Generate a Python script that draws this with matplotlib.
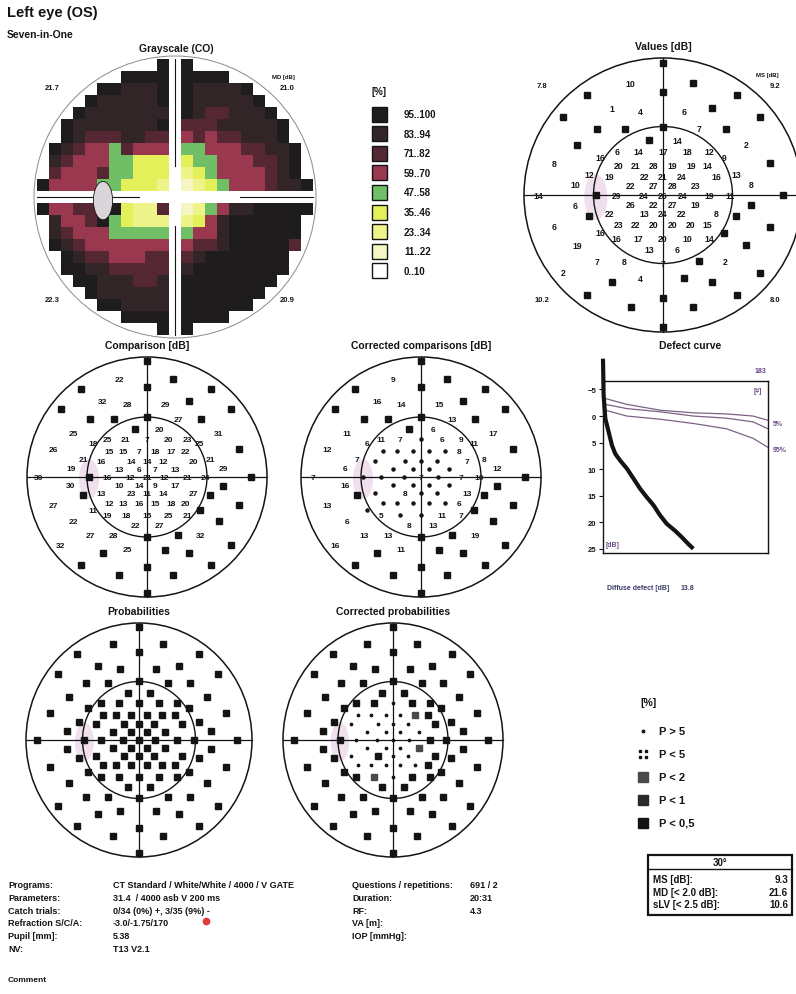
#!/usr/bin/env python
# coding=utf-8

import matplotlib
matplotlib.use("Agg")
import matplotlib.pyplot as plt
from matplotlib.patches import Circle, Ellipse, Rectangle
from matplotlib.colors import ListedColormap
import numpy as np

plt.rcParams['font.family'] = ['Liberation Sans', 'DejaVu Sans']
plt.rcParams['font.weight'] = 'bold'

# ---------------- data ----------------
# test point locations in degrees (outer ring upper, horizontal axis, outer lower, central)
PT_X = [0, -7, 6.5, -16.5, 0, 16, -11, -5, 4.5, 10.5, -21.5, 21, 0, -14.2, -8.3, 7.8, 13.5,
        -18.5, 18, -13.5, 13.2, -23.5, 23, -16, 15.8, -19, 19,
        -27, -14.5, 14.5, 26,
        -19, 19, -16, 15.8, -23.5, 23, -13.5, 13.2, -18.5, 18, -14.2, -8.3, 7.8, 13.5, 0,
        -21.5, 21, -11, -5, 4.5, 10.5, -16.5, 0, 16, -7, 6.5, 0,
        -3, 3,
        -10, -5.3, 0, 5.3, 10,
        -9.5, -6, -2, 2, 6, 9.5,
        -11.5, -4, 0, 4, 11.5,
        -7, -2, 2, 7,
        -10, -4.3, 0, 4.3, 10,
        -7, -2, 2, 7,
        -11.5, -4, 0, 4, 11.5,
        -9.5, -6, -2, 2, 6, 9.5,
        -10, -5.3, 0, 5.3, 10,
        -3, 3]
PT_Y = [29, 24.5, 24.5, 22, 22.5, 22, 19, 18.2, 18.2, 19, 17, 17, 15, 14.5, 14.5, 14.5, 14.5,
        11, 11, 8.3, 8.3, 7, 7, 4.5, 4.5, 2.2, 2.2,
        0, 0, 0, 0,
        -2.2, -2.2, -4.5, -4.5, -7, -7, -8.3, -8.3, -11, -11, -14.5, -14.5, -14.5, -14.5, -15,
        -17, -17, -19, -18.2, -18.2, -19, -22, -22.5, -22, -24.5, -24.5, -29,
        12, 12,
        9.5, 9.5, 9.5, 9.5, 9.5,
        6.5, 6.5, 6.5, 6.5, 6.5, 6.5,
        4, 4, 4, 4, 4,
        2, 2, 2, 2,
        0, 0, 0, 0, 0,
        -2, -2, -2, -2,
        -4, -4, -4, -4, -4,
        -6.5, -6.5, -6.5, -6.5, -6.5, -6.5,
        -9.5, -9.5, -9.5, -9.5, -9.5,
        -12, -12]

# None = black square (absolute defect), 0 = dot (within normal)
VALUES = [None, 10, None, None, None, None, 1, 4, 6, None, None, None, None, None, None, 7, None,
          None, 2, 16, 9, 8, None, 12, 13, 10, 8,
          14, None, 11, None,
          6, None, None, None, 6, None, 16, None, 19, None, 7, 8, None, 2, 7,
          2, None, None, 4, None, None, None, None, None, None, None, None,
          None, 14,
          6, 14, 17, 18, 12,
          20, 21, 28, 19, 19, 14,
          19, 22, 21, 24, 16,
          22, 27, 28, 23,
          29, 24, 26, 24, 19,
          26, 22, 27, 19,
          22, 13, 24, 22, 8,
          23, 22, 20, 20, 20, 15,
          16, 17, 20, 10, 14,
          13, 6]

COMPARISON = [None, 22, None, None, None, None, 32, 28, 29, None, None, None, None, None, None, 27, None,
              25, 31, 18, 25, 26, None, 21, 21, 19, 29,
              30, None, 24, None,
              30, None, None, None, 27, None, 11, None, 22, None, 27, 28, None, 32, None,
              32, None, None, 25, None, None, None, None, None, None, None, None,
              None, 20,
              25, 21, 7, 20, 23,
              15, 15, 7, 18, 17, 22,
              16, 14, 14, 12, 20,
              13, 6, 7, 13,
              16, 12, 21, 12, 21,
              10, 14, 9, 17,
              13, 23, 11, 14, 27,
              12, 13, 16, 15, 18, 20,
              19, 18, 15, 25, 21,
              22, 27]

CORR_COMP = [None, 9, None, None, None, None, 16, 14, 15, None, None, None, None, None, None, 13, None,
             11, 17, 6, 11, 12, None, 7, 8, 6, 12,
             7, 0, 10, None,
             16, None, None, None, 13, None, 0, None, 6, None, 13, 13, None, 19, None,
             16, None, None, 11, None, None, None, None, None, None, None, None,
             None, 6,
             11, 7, 0, 6, 9,
             0, 0, 0, 0, 0, 8,
             0, 0, 0, 0, 7,
             0, 0, 0, 0,
             0, 0, 7, 0, 7,
             0, 0, 0, 0,
             0, 8, 0, 0, 13,
             0, 0, 0, 0, 0, 6,
             5, 0, 0, 11, 7,
             8, 13]

# probability symbol codes: 0 P>5, 1 P<5, 2 P<2, 3 P<1, 4 P<0,5
PROB = [4, 4, 4, 4, 4, 4, 4, 4, 4, 4, 4, 4, 4, 4, 4, 4, 4,
        4, 4, 4, 4, 4, 4, 4, 4, 4, 4,
        4, 4, 4, 4,
        4, 4, 4, 4, 4, 4, 4, 4, 4, 4, 4, 4, 4, 4, 4,
        4, 4, 4, 4, 4, 4, 4, 4, 4, 4, 4, 4,
        4, 4,
        4, 4, 4, 4, 4,
        4, 4, 4, 4, 4, 4,
        4, 4, 4, 4, 4,
        4, 4, 4, 4,
        4, 4, 4, 4, 4,
        4, 4, 4, 4,
        4, 4, 4, 4, 4,
        4, 4, 4, 4, 4, 4,
        4, 4, 4, 4, 4,
        4, 4]

CORR_PROB = [4, 4, 4, 4, 4, 4, 4, 4, 4, 4, 4, 4, 4, 4, 4, 4, 4,
             4, 4, 4, 4, 4, 4, 4, 4, 4, 4,
             4, 4, 4, 4,
             4, 4, 4, 4, 4, 4, 4, 4, 4, 4, 4, 4, 4, 4, 4,
             4, 4, 4, 4, 4, 4, 4, 4, 4, 4, 4, 4,
             4, 4,
             4, 4, 0, 4, 4,
             0, 0, 0, 0, 2, 4,
             0, 0, 0, 0, 4,
             0, 0, 0, 0,
             0, 0, 0, 0, 4,
             0, 0, 0, 2,
             0, 4, 0, 0, 4,
             0, 0, 0, 0, 0, 4,
             4, 2, 0, 4, 4,
             4, 4]

# grayscale classes per cell (0 = 0..10 % ... 8 = 95..100 %), rows top to bottom
GRAY_ROWS = ["888",
             "888888888",
             "8877788877778",
             "877777888777778",
             "87777777887667778",
             "8777777788666777778",
             "8766677666565667778",
             "876554655554455566778",
             "765554433333445556678",
             "655564433322345555678",
             "85555443332112345556778",
             "85555443332112345556778",
             "85566883226112457788888",
             "755684322222357888888",
             "765554444444557888888",
             "876555555555667888886",
             "8766555666678888888",
             "8877666666788888888",
             "88777667788888888",
             "877777788888888",
             "8877777888888",
             "888888888",
             "888"]
GRAY_COLORS = ['#ffffff', '#f6f6c4', '#eef38a', '#e3f05a', '#70bf66',
               '#9a3850', '#552733', '#312528', '#1e1c1d']
GRAY_LABELS = ['0..10', '11..22', '23..34', '35..46', '47..58',
               '59..70', '71..82', '83..94', '95..100']
GRAY_QUAD = ['21.7', '21.0', '22.3', '20.9']
VALUE_QUAD = ['7.8', '9.2', '10.2', '8.0']

DEFECT_RANK = [0, 0.7, 2.6, 6.3, 9.9, 13.6, 19.1, 26.5, 33.9, 41.2, 48.6, 56, 63.3, 70.7, 79.9, 87.3, 94.6, 100.2]
DEFECT_DB = [-10.8, -3.9, 0.5, 3.0, 5.5, 7.1, 8.4, 9.9, 11.8, 13.7, 15.3, 16.8, 18.7, 20.3, 21.6, 22.8, 24.1, 25.0]
NORM_RANK = [2.6, 26.5, 63.3, 100.2, 137, 166.4, 183]
NORM_5 = [-3.3, -2.2, -1.1, -0.6, -0.4, 0.0, 0.8]
NORM_MID = [-2.2, -1.4, -0.8, 0.0, 0.4, 1.1, 2.4]
NORM_95 = [-1.1, 0.0, 0.6, 1.4, 2.4, 4.2, 5.9]
DIFFUSE_DEFECT = '13.8'

PROB_LABELS = ['P > 5', 'P < 5', 'P < 2', 'P < 1', 'P < 0,5']

INFO_LEFT = [('Programs:', 'CT Standard / White/White / 4000 / V GATE'),
             ('Parameters:', '31.4  / 4000 asb V 200 ms'),
             ('Catch trials:', '0/34 (0%) +, 3/35 (9%) -'),
             ('Refraction S/C/A:', '-3.0/-1.75/170'),
             ('Pupil [mm]:', '5.38'),
             ('NV:', 'T13 V2.1')]
INFO_RIGHT = [('Questions / repetitions:', '691 / 2'),
              ('Duration:', '20:31'),
              ('RF:', '4.3'),
              ('VA [m]:', ''),
              ('IOP [mmHg]:', '')]
RESULT_ROWS = [('MS [dB]:', '9.3'), ('MD [< 2.0 dB]:', '21.6'), ('sLV [< 2.5 dB]:', '10.6')]

# ---------------- figure ----------------
W, H = 796, 995
INK = '#141414'
fig = plt.figure(figsize=(W / 100.0, H / 100.0), dpi=100, facecolor='white')
page = fig.add_axes([0, 0, 1, 1], zorder=0)
page.set_xlim(0, W)
page.set_ylim(H, 0)
page.axis('off')


def txt(x, y, s, size=6.5, ha='left', color=INK):
    page.text(x, y, s, fontsize=size, ha=ha, va='center', fontweight='bold', color=color)


def pixAxes(x0, y0, w, h):
    return fig.add_axes([x0 / W, 1 - (y0 + h) / H, w / W, h / H], zorder=1)


LIM = 31.5


def fieldAxes(cx, cy, rx, ry):
    w = rx * 2 * LIM / 30.0
    h = ry * 2 * LIM / 30.0
    ax = pixAxes(cx - w / 2, cy - h / 2, w, h)
    ax.set_xlim(-LIM, LIM)
    ax.set_ylim(-LIM, LIM)
    ax.axis('off')
    ax.add_patch(Ellipse((-14.5, -0.5), 5, 10, color='#f0e0ee', lw=0, zorder=0))
    ax.add_patch(Circle((0, 0), 30, fill=False, ec=INK, lw=1.1))
    ax.add_patch(Circle((0, 0), 15, fill=False, ec=INK, lw=1.0))
    ax.plot([-30, 30], [0, 0], color=INK, lw=0.9)
    ax.plot([0, 0], [-30, 30], color=INK, lw=0.9)
    return ax


def drawNumbers(ax, vals, ms, size=6.0):
    sx = [x for x, v in zip(PT_X, vals) if v is None]
    sy = [y for y, v in zip(PT_Y, vals) if v is None]
    ax.plot(sx, sy, 's', ms=ms, color=INK, zorder=3)
    for x, y, v in zip(PT_X, PT_Y, vals):
        if v is None:
            continue
        if v == 0:
            ax.plot(x, y, 'o', ms=2.2, color=INK, zorder=3)
        else:
            ax.text(x, y, str(v), fontsize=size, ha='center', va='center',
                    fontweight='bold', color=INK, zorder=4)


PROB_COLORS = {2: '#4a4a4a', 3: '#2a2a2a', 4: INK}


def drawProb(ax, codes, ms):
    for x, y, c in zip(PT_X, PT_Y, codes):
        if c == 0:
            ax.plot(x, y, 'o', ms=1.7, color=INK, zorder=3)
        elif c == 1:
            ax.plot([x - 0.6, x + 0.6, x - 0.6, x + 0.6], [y - 0.6, y - 0.6, y + 0.6, y + 0.6],
                    's', ms=1.2, color=INK, zorder=3)
        else:
            ax.plot(x, y, 's', ms=ms, color=PROB_COLORS[c], zorder=3)


# titles
txt(7, 13, 'Left eye (OS)', size=10.5)
txt(7, 35, 'Seven-in-One', size=7.5)
txt(176, 49, 'Grayscale (CO)', size=7.5, ha='center')
txt(663, 47, 'Values [dB]', size=7.5, ha='center')
txt(147, 346, 'Comparison [dB]', size=7.5, ha='center')
txt(421, 346, 'Corrected comparisons [dB]', size=7.5, ha='center')
txt(690, 346, 'Defect curve', size=7.5, ha='center')
txt(139, 612, 'Probabilities', size=7.5, ha='center')
txt(393, 612, 'Corrected probabilities', size=7.5, ha='center')

# ---- grayscale ----
n = len(GRAY_ROWS)
codes = np.array([[int(c) if c != ' ' else -1 for c in row.center(n)] for row in GRAY_ROWS])
img = np.ma.masked_less(codes, 0)
cell = 12.0
gax = pixAxes(175 - 12.5 * cell, 198 - 12.5 * cell, 25 * cell, 25 * cell)
gax.imshow(img, cmap=ListedColormap(GRAY_COLORS), vmin=-0.5, vmax=8.5,
           extent=(-n / 2, n / 2, -n / 2, n / 2), interpolation='nearest', aspect='auto')
gax.set_xlim(-12.5, 12.5)
gax.set_ylim(-12.5, 12.5)
gax.axis('off')
gax.add_patch(Circle((0, 0), 11.75, fill=False, ec='#8a8a8a', lw=0.7))
gax.add_patch(Rectangle((-0.5, -n / 2), 1, n, color='white', lw=0))
gax.add_patch(Rectangle((-n / 2, -0.5), n, 1, color='white', lw=0))
gax.plot([0, 0], [2.6, n / 2], color=INK, lw=0.8)
gax.plot([0, 0], [-n / 2, -2.4], color=INK, lw=0.8)
gax.plot([-n / 2, -3.0], [0, 0], color=INK, lw=0.8)
gax.plot([5.4, n / 2], [0, 0], color=INK, lw=0.8)
gax.add_patch(Ellipse((-6.0, -0.3), 1.6, 3.2, fc='#d9d5d9', ec=INK, lw=0.6, zorder=3))
txt(52, 88, GRAY_QUAD[0], size=5.5, ha='center')
txt(287, 88, GRAY_QUAD[1], size=5.5, ha='center')
txt(283, 78, 'MD [dB]', size=4.3, ha='center')
txt(52, 300, GRAY_QUAD[2], size=5.5, ha='center')
txt(287, 300, GRAY_QUAD[3], size=5.5, ha='center')

# grayscale legend
txt(372, 92, '[%]', size=7)
for i, lab in enumerate(GRAY_LABELS[::-1]):
    yc = 115 + i * 19.6
    page.add_patch(Rectangle((372, yc - 7.5), 15, 15, fc=GRAY_COLORS[8 - i], ec=INK, lw=1.0))
    txt(404, yc, lab, size=7)

# ---- values ----
vax = fieldAxes(663, 196, 139, 137)
drawNumbers(vax, VALUES, 4.8, size=6.2)
txt(542, 86, VALUE_QUAD[0], size=5.5, ha='center')
txt(775, 86, VALUE_QUAD[1], size=5.5, ha='center')
txt(767, 75, 'MS [dB]', size=4.3, ha='center')
txt(542, 301, VALUE_QUAD[2], size=5.5, ha='center')
txt(775, 301, VALUE_QUAD[3], size=5.5, ha='center')

# ---- comparisons ----
cax = fieldAxes(147, 478, 120, 120)
drawNumbers(cax, COMPARISON, 4.4)
ccax = fieldAxes(421, 478, 120, 120)
drawNumbers(ccax, CORR_COMP, 4.4)

# ---- probabilities ----
pax = fieldAxes(139, 741, 113, 117)
drawProb(pax, PROB, 5.0)
cpax = fieldAxes(393, 741, 110, 117)
drawProb(cpax, CORR_PROB, 5.0)

# probability legend
txt(640, 703, '[%]', size=7.5)
for i, lab in enumerate(PROB_LABELS):
    yc = 732 + i * 23
    if i == 0:
        page.plot(643, yc, 'o', ms=1.8, color=INK)
    elif i == 1:
        page.plot([640, 646, 640, 646], [yc - 3, yc - 3, yc + 3, yc + 3], 's', ms=1.6, color=INK)
    else:
        page.plot(643, yc, 's', ms=6.5, color=PROB_COLORS[i])
    txt(659, yc, lab, size=8)

# ---- defect curve ----
dax = pixAxes(603, 382, 165, 172)
dax.set_xlim(0, 183)
dax.set_ylim(25.8, -6.6)
for curve in (NORM_5, NORM_MID, NORM_95):
    dax.plot(NORM_RANK, curve, color='#7b6286', lw=0.9)
dax.plot(DEFECT_RANK, DEFECT_DB, color=INK, lw=3.0, clip_on=False, solid_capstyle='butt')
dax.set_xticks([])
dax.set_yticks([-5, 0, 5, 10, 15, 20, 25])
dax.tick_params(axis='y', labelsize=5.5, length=3, width=0.8, pad=2, colors=INK)
for s in dax.spines.values():
    s.set_linewidth(1.0)
    s.set_color(INK)
dax.text(175, -8.5, '183', fontsize=5, ha='center', va='center', color='#6a4a86')
dax.text(172, -4.8, '[#]', fontsize=5, ha='center', va='center', color='#6a4a86')
dax.text(11, 24.2, '[dB]', fontsize=5, ha='center', va='center', color='#6a4a86')
dax.text(188, 1.4, '5%', fontsize=5, ha='left', va='center', color='#6a4a86', clip_on=False)
dax.text(188, 6.3, '95%', fontsize=5, ha='left', va='center', color='#6a4a86', clip_on=False)
txt(607, 588, 'Diffuse defect [dB]', size=5, color='#3a3a6a')
txt(681, 588, DIFFUSE_DEFECT, size=5, color='#3a3a6a')

# ---- info block ----
for i, (lab, val) in enumerate(INFO_LEFT):
    y = 886 + i * 12.6
    txt(8, y, lab, size=6.5)
    txt(113, y, val, size=6.5)
page.plot(206, 922, 'o', ms=4.5, color='#e0393e')
for i, (lab, val) in enumerate(INFO_RIGHT):
    y = 886 + i * 12.6
    txt(352, y, lab, size=6.5)
    txt(470, y, val, size=6.5)
txt(8, 981, 'Comment', size=6)

# ---- results box ----
page.add_patch(Rectangle((648, 856), 144, 60, fill=False, ec=INK, lw=1.6))
page.plot([648, 792], [870, 870], color=INK, lw=1.0)
txt(720, 863, '30°', size=7, ha='center')
for i, (lab, val) in enumerate(RESULT_ROWS):
    y = 880 + i * 12.5
    txt(653, y, lab, size=7)
    txt(788, y, val, size=7, ha='right')

fig.savefig('out.png', dpi=100, facecolor='white')
